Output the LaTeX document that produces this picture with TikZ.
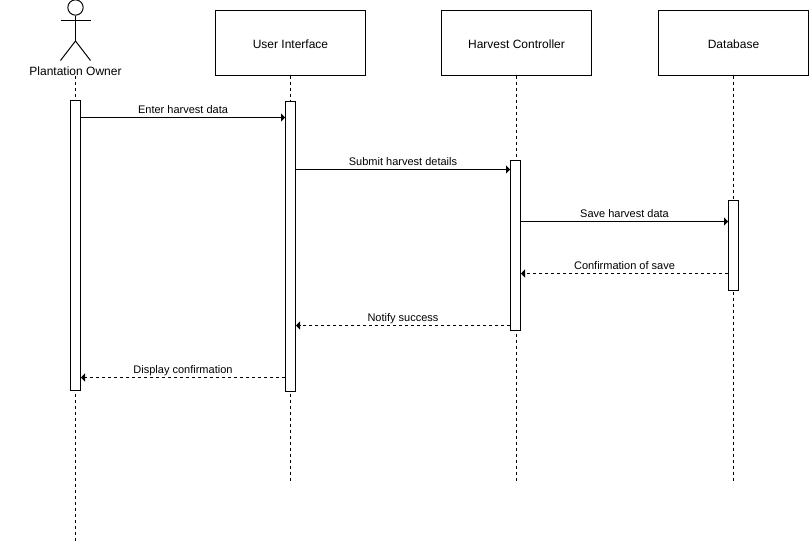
\documentclass[tikz,border=0pt]{standalone}
\usepackage{fontspec}
\setmainfont{Liberation Sans}
\usetikzlibrary{arrows.meta}
\tikzset{
  objbox/.style={draw,fill=white,line width=.75pt,minimum width=112.5pt,minimum height=48.75pt,inner sep=0pt,text height=8.7pt,text depth=0pt,font=\fontsize{9}{11}\selectfont},
  actbar/.style={draw,fill=white,line width=.75pt,minimum width=7.5pt,inner sep=0pt},
  lifeline/.style={line width=.75pt,dash pattern=on 2.25pt off 2.25pt},
  callmsg/.style={line width=.75pt,-{Triangle[length=3pt,width=6pt]}},
  replymsg/.style={line width=.75pt,dash pattern=on 2.25pt off 2.25pt,-{Triangle[length=3pt,width=6pt]}},
  msglabel/.style={anchor=base,yshift=2.7pt,inner sep=0pt,font=\fontsize{8.25}{10}\selectfont},
}

\begin{document}
\begin{tikzpicture}[x=.75pt,y=-.75pt]
        \useasboundingbox (0, 0) rectangle (809, 543);

        % actor
        \node[draw,circle,line width=.75pt,minimum size=11.5pt,inner sep=0pt] (head) at (75.5, 7.5) {};
        \coordinate (armL) at (60.5, 20.5);
        \coordinate (armR) at (90.5, 20.5);
        \coordinate (hip) at (75.5, 41);
        \coordinate (legL) at (60.5, 60.5);
        \coordinate (legR) at (90.5, 60.5);
        \node[inner sep=0pt,font=\fontsize{9}{11}\selectfont] (owner) at (75.5, 71) {Plantation Owner};
        \draw[line width=.75pt] (head) -- (hip);
        \draw[line width=.75pt] (armL) -- (armR);
        \draw[line width=.75pt] (legL) -- (hip) -- (legR);

        % boxes
        \node[objbox] (ui) at (290.5, 42.5) {User Interface};
        \node[objbox] (hc) at (516.5, 42.5) {Harvest Controller};
        \node[objbox] (db) at (733.5, 42.5) {Database};

        % lifelines
        \coordinate (ownerEnd) at (75.5, 542);
        \coordinate (uiEnd) at (290.5, 481);
        \coordinate (hcEnd) at (516.5, 481);
        \coordinate (dbEnd) at (733.5, 481);
        \draw[lifeline] (75.5, 76) -- (ownerEnd);
        \draw[lifeline] (ui) -- (uiEnd);
        \draw[lifeline] (hc) -- (hcEnd);
        \draw[lifeline] (db) -- (dbEnd);

        % activation bars
        \node[actbar,minimum height=217.5pt] (ownerBar) at (75.5, 245) {};
        \node[actbar,minimum height=217.5pt] (uiBar) at (290.5, 246) {};
        \node[actbar,minimum height=127.5pt] (hcBar) at (515.5, 245) {};
        \node[actbar,minimum height=67.5pt] (dbBar) at (733.5, 245.5) {};

        % messages
        \draw[callmsg] (ownerBar.east |- 0, 117.5) to node[msglabel]{Enter harvest data} (uiBar.west |- 0, 117.5);
        \draw[callmsg] (uiBar.east |- 0, 169.5) to node[msglabel]{Submit harvest details} (hcBar.west |- 0, 169.5);
        \draw[callmsg] (hcBar.east |- 0, 221.5) to node[msglabel]{Save harvest data} (dbBar.west |- 0, 221.5);
        \draw[replymsg] (dbBar.west |- 0, 273.5) to node[msglabel]{Confirmation of save} (hcBar.east |- 0, 273.5);
        \draw[replymsg] (hcBar.west |- 0, 325.5) to node[msglabel]{Notify success} (uiBar.east |- 0, 325.5);
        \draw[replymsg] (uiBar.west |- 0, 377.5) to node[msglabel]{Display confirmation} (ownerBar.east |- 0, 377.5);
      \end{tikzpicture}
\end{document}
